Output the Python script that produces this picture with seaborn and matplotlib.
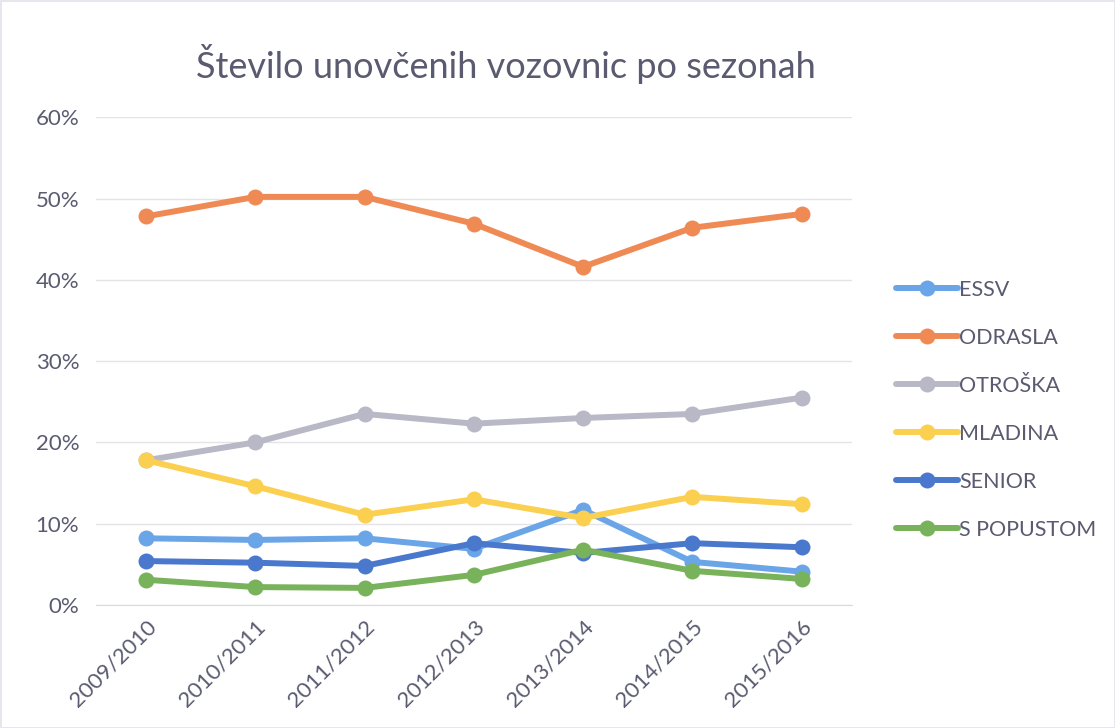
import matplotlib
matplotlib.use("Agg")
import matplotlib.pyplot as plt
from matplotlib.ticker import PercentFormatter
import seaborn as sns
import pandas as pd

seasons = ["2009/2010", "2010/2011", "2011/2012", "2012/2013",
           "2013/2014", "2014/2015", "2015/2016"]
essv = [8.2, 8.0, 8.2, 6.9, 11.7, 5.3, 4.1]
odrasla = [47.8, 50.2, 50.2, 46.9, 41.6, 46.4, 48.1]
otroska = [17.8, 20.0, 23.5, 22.3, 23.0, 23.5, 25.5]
mladina = [17.8, 14.6, 11.1, 13.0, 10.7, 13.3, 12.4]
senior = [5.4, 5.2, 4.8, 7.6, 6.4, 7.6, 7.1]
s_popustom = [3.1, 2.2, 2.1, 3.7, 6.8, 4.2, 3.2]

series = {"ESSV": essv, "ODRASLA": odrasla, "OTROŠKA": otroska,
          "MLADINA": mladina, "SENIOR": senior, "S POPUSTOM": s_popustom}
colors = ["#6aa5e8", "#ef8a55", "#b8b8c6", "#fbd050", "#4a78cc", "#78b25a"]

rows = []
for name, vals in series.items():
    for s, v in zip(seasons, vals):
        rows.append({"sezona": s, "delez": v / 100, "vrsta": name})
df = pd.DataFrame(rows)

sns.set_style("white")
plt.rcParams["font.family"] = ["Lato", "DejaVu Sans"]
txt = "#5a5a70"

fig = plt.figure(figsize=(11.15, 7.28), dpi=100)
ax = fig.add_axes([0.086, 0.169, 0.678, 0.670])

sns.lineplot(data=df, x="sezona", y="delez", hue="vrsta", palette=colors,
             marker="o", markersize=11.5, markeredgewidth=0, linewidth=4.3,
             sort=False, ax=ax)

ax.set_xlim(-0.46, 6.46)
ax.set_ylim(0, 0.6)
ax.set_yticks([0, 0.1, 0.2, 0.3, 0.4, 0.5, 0.6])
ax.yaxis.set_major_formatter(PercentFormatter(1.0, decimals=0))
ax.grid(axis="y", color="#e3e3e8", linewidth=1)
for sp in ["top", "right", "left"]:
    ax.spines[sp].set_visible(False)
ax.spines["bottom"].set_color("#d9d9df")
ax.set_xlabel("")
ax.set_ylabel("")
ax.tick_params(axis="y", length=0, labelsize=16, labelcolor=txt, pad=12)
ax.tick_params(axis="x", length=0, labelsize=16, labelcolor=txt, pad=8)
for lab in ax.get_xticklabels():
    lab.set_rotation(45)
    lab.set_ha("right")
    lab.set_rotation_mode("anchor")

ax.set_title("Število unovčenih vozovnic po sezonah", fontsize=26,
             color=txt, pad=28, x=0.542)

ax.legend(loc="center left", bbox_to_anchor=(0.786, 0.437),
          bbox_transform=fig.transFigure, frameon=False, fontsize=15.5,
          labelspacing=1.3, handlelength=2.9, handletextpad=0.05,
          labelcolor=txt)

fig.patch.set_edgecolor("#e6e6ec")
fig.patch.set_linewidth(2)
fig.savefig("out.png", dpi=100, edgecolor=fig.get_edgecolor())
